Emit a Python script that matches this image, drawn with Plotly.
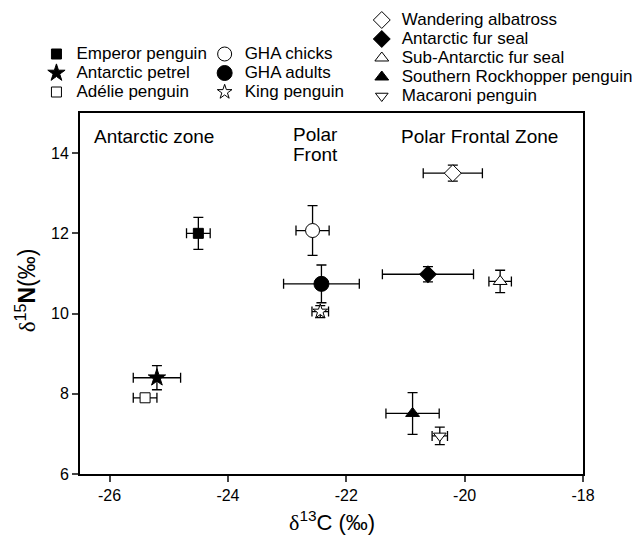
import plotly.graph_objects as go

species = ["Emperor penguin", "Antarctic petrel", "Adélie penguin",
           "GHA chicks", "GHA adults", "King penguin",
           "Wandering albatross", "Antarctic fur seal", "Sub-Antarctic fur seal",
           "Southern Rockhopper penguin", "Macaroni penguin"]
d13C = [-24.50, -25.20, -25.40, -22.57, -22.42, -22.44, -20.20, -20.62, -19.40, -20.88, -20.42]
d15N = [12.00, 8.40, 7.90, 12.07, 10.74, 10.05, 13.50, 10.98, 10.80, 7.51, 6.95]
sdC = [0.20, 0.40, 0.20, 0.28, 0.64, 0.14, 0.50, 0.77, 0.19, 0.45, 0.13]
sdN = [0.40, 0.30, 0.08, 0.62, 0.47, 0.15, 0.20, 0.19, 0.28, 0.52, 0.22]
legend_group = ["legend", "legend", "legend", "legend2", "legend2", "legend2",
                "legend3", "legend3", "legend3", "legend3", "legend3"]

x_ticks = [-26, -24, -22, -20, -18]
x_ticktext = ["-26", "-24", "-22", "-20", "-18"]
y_ticks = [6, 8, 10, 12, 14]
zones = ["Antarctic zone", "Polar", "Front", "Polar Frontal Zone"]

symbols = ["square", "star", "square", "circle", "circle", "star",
           "diamond", "diamond", "triangle-up", "triangle-up", "triangle-down"]
fills = ["black", "black", "white", "white", "black", "white",
         "white", "black", "white", "black", "white"]
sizes = [10, 13, 10, 14, 15, 11, 13, 13, 12, 12, 11]

FONT = "Liberation Sans, Arial, sans-serif"
SERIF = "Liberation Serif, Times New Roman, serif"

fig = go.Figure()
for i, name in enumerate(species):
    fig.add_trace(go.Scatter(
        x=[d13C[i]], y=[d15N[i]], mode="markers",
        # legend rows are spaced for 12px text, label itself drawn at 17px
        name=f"<span style='font-size:17px'>{name}</span>",
        legend=legend_group[i],
        marker=dict(symbol=symbols[i], color=fills[i], size=sizes[i],
                    line=dict(color="black", width=1)),
        error_x=dict(type="data", array=[sdC[i]], color="black", thickness=1.3, width=5),
        error_y=dict(type="data", array=[sdN[i]], color="black", thickness=1.3, width=5),
    ))

leg_common = dict(font=dict(family=FONT, size=12, color="black"), bgcolor="rgba(0,0,0,0)",
                  xanchor="left", yanchor="top", tracegroupgap=0, itemwidth=30)
fig.update_layout(
    width=633, height=543,
    margin=dict(l=80, r=50, t=113, b=69, autoexpand=False),
    paper_bgcolor="white", plot_bgcolor="white",
    font=dict(family=FONT, size=16, color="black"),
    legend=dict(x=-0.0866, y=1.2036, **leg_common),
    legend2=dict(x=0.2478, y=1.2036, **leg_common),
    legend3=dict(x=0.5602, y=1.2978, **leg_common),
    xaxis=dict(range=[-26.5, -18], tickvals=x_ticks, ticktext=x_ticktext, ticks="outside",
               ticklen=6, tickwidth=1.5,
               showline=True, linecolor="black", linewidth=2, mirror=True,
               showgrid=False, zeroline=False, tickfont=dict(size=16)),
    yaxis=dict(range=[6, 15], tickvals=y_ticks, ticks="outside", ticklen=6, tickwidth=1.5,
               showline=True, linecolor="black", linewidth=2, mirror=True,
               showgrid=False, zeroline=False, tickfont=dict(size=16)),
)

# zone labels
zone_x = [-26.29, -22.94, -22.94, -21.11]
zone_y = [14.42, 14.47, 13.97, 14.42]
for zx, zy, zt in zip(zone_x, zone_y, zones):
    fig.add_annotation(x=zx, y=zy, xref="x", yref="y", text=zt, showarrow=False,
                       xanchor="left", yanchor="middle", align="left",
                       font=dict(family=FONT, size=19, color="black"))

# axis titles
fig.add_annotation(x=0.5, y=-0.130, xref="paper", yref="paper", xanchor="center", yanchor="middle",
                   showarrow=False,
                   text=f"<span style='font-family:{SERIF}'>δ</span><sup>13</sup>C (‰)",
                   font=dict(family=FONT, size=22, color="black"))
fig.add_annotation(x=-0.1085, y=0.51, xref="paper", yref="paper", xanchor="center", yanchor="middle",
                   showarrow=False, textangle=-90,
                   text=f"<span style='font-family:{SERIF}'>δ</span><sup>15</sup><b>N</b>(‰)",
                   font=dict(family=FONT, size=23, color="black"))

fig.write_html("out.html")
